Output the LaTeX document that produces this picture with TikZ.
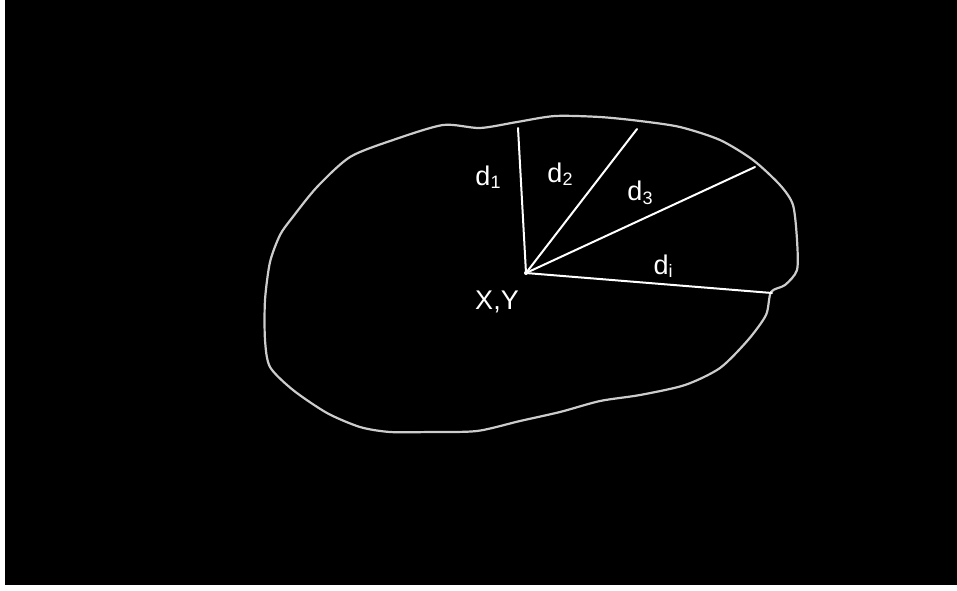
\documentclass[tikz,border=0pt]{standalone}
\usepackage{fontspec}
\setmainfont{Liberation Sans}
\newcommand\mysub[1]{\raisebox{-3.5pt}{\fontsize{18}{20}\selectfont #1}}
\begin{document}
\begin{tikzpicture}[x=1pt,y=-1pt,
  outline/.style={draw=white!80!black,line width=2.2pt,line join=round},
  radius/.style={draw=white,line width=2pt,line cap=round},
  lbl/.style={text=white,font=\fontsize{27}{30}\selectfont,inner sep=0pt,anchor=center}]
\fill[white] (0,0) rectangle (957,590);
\fill[black] (5,0) rectangle (957,585);
\useasboundingbox (0,0) rectangle (957,590);
\draw[outline] plot[smooth cycle,tension=0.45] coordinates {
 (443,125) (480,128) (517,122) (555,116) (600,117) (640,121) (680,127)
 (720,140) (753,160) (780,185) (793,205) (797,240) (797,270) (785,285)
 (771,292) (766,315) (748,340) (720,368) (685,385) (640,395) (600,401)
 (560,412) (520,421) (477,431) (430,432) (390,432) (360,427) (327,413)
 (293,390) (270,367) (265,340) (265,300) (270,262) (280,235) (292,218)
 (317,187) (350,157) (393,140)};
\coordinate (c) at (526,273);
\coordinate (e1) at (518,128);
\coordinate (e2) at (637,129);
\coordinate (e3) at (755,167);
\coordinate (e4) at (772,293);
\draw[radius] (c) -- (e1);
\draw[radius] (c) -- (e2);
\draw[radius] (c) -- (e3);
\draw[radius] (c) -- (e4);
\fill[white] (c) circle (2);
\node[lbl] (l1) at (488,177) {d\mysub{1}};
\node[lbl] (l2) at (560,174) {d\mysub{2}};
\node[lbl] (l3) at (640,193) {d\mysub{3}};
\node[lbl] (l4) at (663,266) {d\mysub{i}};
\node[lbl] (xy) at (497,302) {X,Y};
\end{tikzpicture}
\end{document}
